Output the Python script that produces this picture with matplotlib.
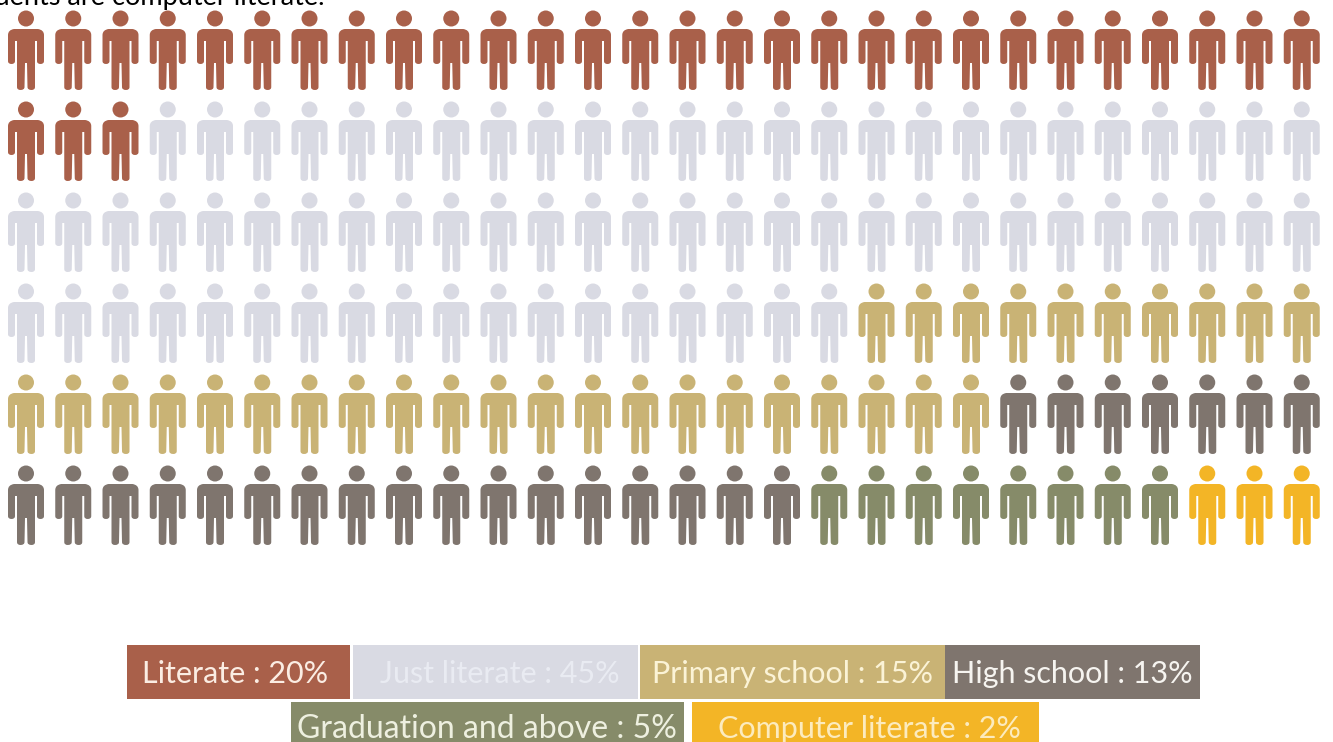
import numpy as np
import matplotlib
matplotlib.use("Agg")
import matplotlib.pyplot as plt
from matplotlib.path import Path
from matplotlib.patches import Rectangle

# people per group, filled row by row
labels = ["Literate : 20%", "Just literate : 45%", "Primary school : 15%",
          "High school : 13%", "Graduation and above : 5%", "Computer literate : 2%"]
counts = [31, 71, 31, 24, 8, 3]
colors = ["#A9604A", "#D9DAE3", "#C9B375", "#7F756E", "#868B69", "#F3B526"]
text_colors = ["#FBEDE3", "#E9EBF2", "#FBF3D6", "#F6F4F0", "#EEF0E0", "#FCEBBE"]

n_cols = 28
n_rows = 6
x_first, x_step = 26.0, 47.25
y_first, y_step = 50.0, 91.0

# legend boxes in pixels: left, right, top, bottom
box_left = [127, 353, 640, 945, 291, 692]
box_right = [350, 638, 945, 1200, 684, 1039]
box_top = [645, 645, 645, 645, 702, 702]
box_bottom = [699, 699, 699, 699, 742, 742]
text_x = [235, 500, 793, 1072, 487, 869]
label_size = [22, 22, 22, 22, 23, 22]

title_tail = "students are computer literate."


def person_marker():
    # head is a circle, body outline runs from the left shoulder; y points up here
    head = Path.circle((0, 31.5), 8.0)
    M, L, C = Path.MOVETO, Path.LINETO, Path.CURVE3
    body = [(-18, 15), (-18, 20), (-12, 21), (12, 21), (18, 20), (18, 15),
            (18, -11), (18, -14), (14.5, -14), (11, -14), (11, -11), (11, 9), (9, 9),
            (9, -37), (9, -40), (5.5, -40), (1.5, -40), (1.5, -37), (1, -13), (-1, -13),
            (-1.5, -37), (-1.5, -40), (-5.5, -40), (-9, -40), (-9, -37), (-9, 9), (-11, 9),
            (-11, -11), (-11, -14), (-14.5, -14), (-18, -14), (-18, -11), (-18, 15)]
    codes = [M, C, C, L, C, C, L, C, C, C, C, L, L, L, C, C, C, C, L, L, L, C, C, C, C,
             L, L, L, C, C, C, C, L]
    return Path.make_compound_path(head, Path(body, codes))


fig = plt.figure(figsize=(13.33, 7.42), dpi=100)
ax = fig.add_axes([0, 0, 1, 1])
ax.set_xlim(0, 1333)
ax.set_ylim(742, 0)
ax.axis("off")

group = np.repeat(np.arange(len(counts)), counts)
rows, cols = np.divmod(np.arange(group.size), n_cols)
xs = x_first + cols * x_step
ys = y_first + rows * y_step

# marker is scaled by its largest vertex (40), so s sets the 80 px height
marker = person_marker()
height_pt = 80 * 72 / fig.dpi
ax.scatter(xs, ys, s=height_pt ** 2, marker=marker, c=[colors[g] for g in group],
           linewidths=0)

ax.text(325, 5, title_tail, ha="right", va="baseline", fontsize=19.5,
        family="Lato", color="black")

for i, lab in enumerate(labels):
    ax.add_patch(Rectangle((box_left[i], box_top[i]), box_right[i] - box_left[i],
                           box_bottom[i] - box_top[i], fc=colors[i], ec="none"))
    ymid = (box_top[i] + box_bottom[i]) / 2 + (2 if i < 4 else 7)
    ax.text(text_x[i], ymid, lab, ha="center", va="center", fontsize=label_size[i],
            family="Lato", color=text_colors[i])

fig.savefig("out.png", dpi=100, facecolor="white")
